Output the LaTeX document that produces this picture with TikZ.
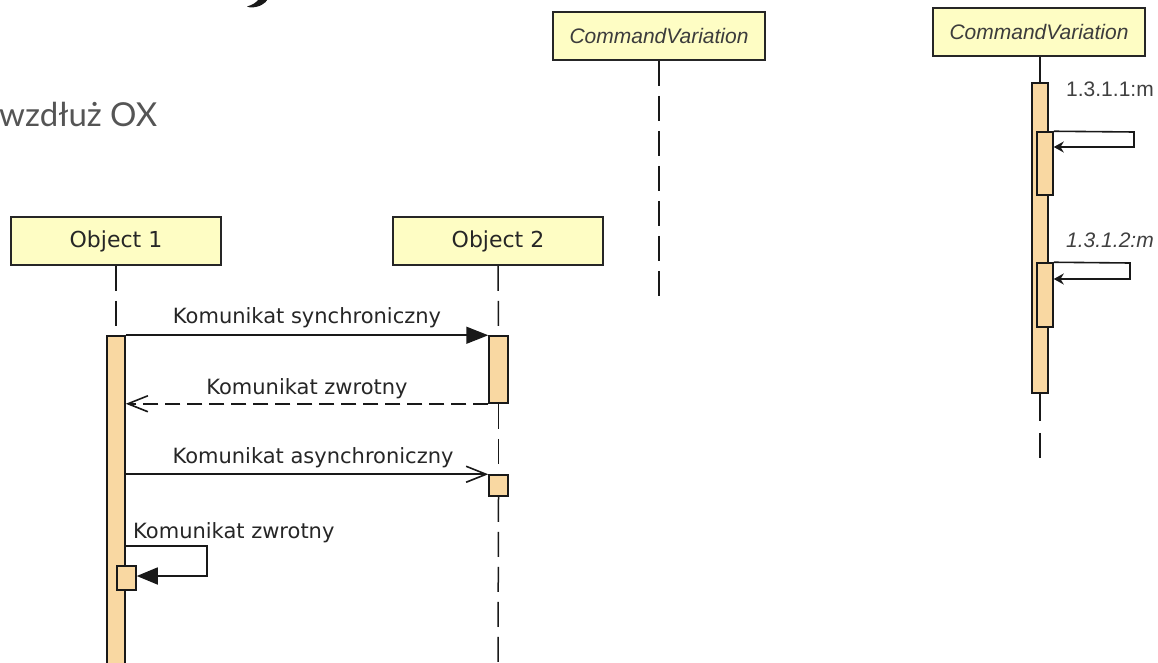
\documentclass[tikz,border=0pt]{standalone}
\usepackage{fontspec}
\usetikzlibrary{arrows.meta,calc}
\newfontfamily\umlfont{DejaVu Sans}
\newfontfamily\arialfont{Liberation Sans}
\newfontfamily\latofont{Lato}
\definecolor{boxyellow}{HTML}{FEFDC4}
\definecolor{barorange}{HTML}{F9D8A2}
\definecolor{greytext}{HTML}{555555}
\definecolor{cvtext}{HTML}{3C3C3C}
\tikzset{
  objbox/.style={draw=black!85, line width=1.8pt, fill=boxyellow, minimum width=210pt, minimum height=48pt, inner sep=0pt, font=\umlfont\fontsize{22}{26}\selectfont, text=black!85},
  cvbox/.style={draw=black!85, line width=1.8pt, fill=boxyellow, minimum width=212pt, minimum height=48pt, inner sep=0pt, font=\arialfont\itshape\fontsize{21}{25}\selectfont, text=cvtext},
  actbar/.style={draw=black!90, line width=1.5pt, fill=barorange, inner sep=0pt},
  lifeline/.style={draw=black!90, line width=1.5pt, dash pattern=on 25pt off 10pt},
  msg/.style={draw=black!90, line width=1.6pt},
  msglabel/.style={font=\umlfont\fontsize{21}{25}\selectfont, text=black!85, anchor=base, inner sep=0pt},
  numlabel/.style={font=\arialfont\fontsize{21}{25}\selectfont, text=black!75, anchor=base west, inner sep=0pt},
}
\begin{document}
\begin{tikzpicture}[x=1pt,y=-1pt]
\fill[white] (0,0) rectangle (1158,663);
\useasboundingbox (0,0) rectangle (1158,663);
\clip (0,0) rectangle (1158,663);

% fragment of a glyph of the cut-off title
\fill[black!90] (259,-1) -- (268,-1) .. controls (265,4) and (259,7.5) .. (250,7.5)
  -- (247,6.5) .. controls (252,5) and (256,3) .. (259,-1) -- cycle;
\node[anchor=base west, inner sep=0pt, font=\latofont\fontsize{33}{38}\selectfont, text=greytext] (sub) at (-1,127) {wzdłuż OX};

% object boxes
\node[objbox] (o1) at (116,241) {Object 1};
\node[objbox] (o2) at (498,241) {Object 2};
\node[cvbox] (cv1) at (659,36) {CommandVariation};
\node[cvbox] (cv2) at (1039,32) {CommandVariation};

% activation bars
\node[actbar, minimum width=18pt, minimum height=340pt] (b1) at (116,506) {};
\node[actbar, minimum width=19pt, minimum height=67pt] (b2) at (498.5,369.5) {};
\node[actbar, minimum width=19pt, minimum height=21pt] (ba) at (498.5,485.5) {};
\node[actbar, minimum width=19pt, minimum height=24pt] (bs) at (126.5,578) {};
\node[actbar, minimum width=16pt, minimum height=310pt] (r1) at (1040,238) {};
\node[actbar, minimum width=16pt, minimum height=63pt] (r2) at (1045,163.5) {};
\node[actbar, minimum width=16pt, minimum height=64pt] (r3) at (1045,295) {};

% lifelines
\coordinate (o2end) at (498,663);
\coordinate (cv1end) at (659,303);
\coordinate (r1end) at (1040,458);
\draw[lifeline] (o1.south) -- (b1.north);
\draw[lifeline] (o2.south) -- (b2.north);
\draw[lifeline] (b2.south) -- (ba.north);
\draw[lifeline] (ba.south) -- (o2end);
\draw[lifeline] (cv1.south) -- (cv1end);
\draw[msg] (cv2.south -| r1.north) -- (r1.north);
\draw[lifeline, dash pattern=on 27pt off 12pt] (r1.south) -- (r1end);

% messages Object 1 / Object 2
\draw[msg, -{Triangle[length=22pt,width=17pt]}] (b1.north east |- b2.north) -- (b2.north west);
\node[msglabel] (l1) at (307,323) {Komunikat synchroniczny};
\draw[msg, dash pattern=on 15pt off 7pt, -{Straight Barb[length=20pt,width=16pt]}] (b2.south west) -- (b1.east |- b2.south);
\node[msglabel] (l2) at (307,394) {Komunikat zwrotny};
\draw[msg, -{Straight Barb[length=20pt,width=16pt]}] (b1.east |- ba.north) -- (ba.north west);
\node[msglabel] (l3) at (313,463) {Komunikat asynchroniczny};
\coordinate (s1) at (207,546);
\coordinate (s2) at (207,576);
\draw[msg, -{Triangle[length=21pt,width=17pt]}] (b1.east |- s1) -- (s1) -- (s2) -- (bs.east |- s2);
\node[msglabel, anchor=base west] (l4) at (133,538) {Komunikat zwrotny};

% self messages on right lifeline
\coordinate (t1) at (1134,132);
\coordinate (t2) at (1134,147);
\draw[msg, -{Stealth[length=10pt,width=11pt]}] (r2.north east) -- (t1) -- (t2) -- (r2.east |- t2);
\node[numlabel] (n1) at (1066,97) {1.3.1.1:m};
\coordinate (u1) at (1130,263);
\coordinate (u2) at (1130,279);
\draw[msg, -{Stealth[length=10pt,width=11pt]}] (r3.north east) -- (u1) -- (u2) -- (r3.east |- u2);
\node[numlabel, font=\arialfont\itshape\fontsize{21}{25}\selectfont] (n2) at (1066,247) {1.3.1.2:m};
\end{tikzpicture}
\end{document}
